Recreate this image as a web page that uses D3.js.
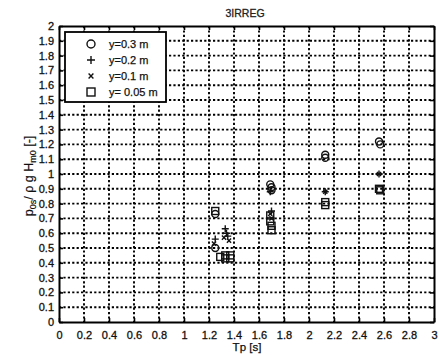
<!DOCTYPE html>
<html>
<head>
<meta charset="utf-8">
<script src="https://cdn.jsdelivr.net/npm/d3@7"></script>
<style>
  body { margin: 0; background: #fff; }
  svg { font-family: "Liberation Sans", Arial, sans-serif; }
</style>
</head>
<body>
<div id="vis"></div>
<script>
// frame
const FRAME_WIDTH = 439;
const FRAME_HEIGHT = 356;
const MARGINS = {left: 59, right: 5, top: 26, bottom: 34};
const VIS_WIDTH = FRAME_WIDTH - MARGINS.left - MARGINS.right;
const VIS_HEIGHT = FRAME_HEIGHT - MARGINS.top - MARGINS.bottom;

// data
const X_TICKS = [0, 0.2, 0.4, 0.6, 0.8, 1, 1.2, 1.4, 1.6, 1.8, 2, 2.2, 2.4, 2.6, 2.8, 3];
const Y_TICKS = [0, 0.1, 0.2, 0.3, 0.4, 0.5, 0.6, 0.7, 0.8, 0.9, 1, 1.1, 1.2, 1.3, 1.4, 1.5, 1.6, 1.7, 1.8, 1.9, 2];

const TP_03 = [1.25, 1.25, 1.69, 1.70, 1.70, 2.13, 2.13, 2.56, 2.57];
const P_03  = [0.73, 0.50, 0.93, 0.91, 0.89, 1.13, 1.11, 1.22, 1.20];

const TP_02 = [1.25, 1.33, 1.34, 1.35, 1.69, 1.70, 2.13, 2.56];
const P_02  = [0.56, 0.63, 0.60, 0.58, 0.88, 0.75, 0.88, 1.00];

const TP_01 = [1.24, 1.32, 1.36, 1.69, 1.70, 2.13, 2.56];
const P_01  = [0.53, 0.57, 0.55, 0.73, 0.70, 0.88, 1.00];

const TP_005 = [1.25, 1.29, 1.33, 1.33, 1.37, 1.37, 1.69, 1.69, 1.70, 1.70, 2.13, 2.13, 2.56, 2.57];
const P_005  = [0.75, 0.44, 0.45, 0.43, 0.45, 0.43, 0.72, 0.68, 0.65, 0.62, 0.81, 0.79, 0.90, 0.89];

const SERIES = [
  {name: "y=0.3 m", shape: "circle", tp: TP_03, p: P_03},
  {name: "y=0.2 m", shape: "plus", tp: TP_02, p: P_02},
  {name: "y=0.1 m", shape: "cross", tp: TP_01, p: P_01},
  {name: "y= 0.05 m", shape: "square", tp: TP_005, p: P_005}
];

const svg = d3.select("#vis")
  .append("svg")
    .attr("width", FRAME_WIDTH)
    .attr("height", FRAME_HEIGHT);

const X_SCALE = d3.scaleLinear().domain([0, 3]).range([0, VIS_WIDTH]);
const Y_SCALE = d3.scaleLinear().domain([0, 2]).range([VIS_HEIGHT, 0]);

const g = svg.append("g")
  .attr("transform", "translate(" + MARGINS.left + "," + MARGINS.top + ")");

// dotted grid
g.selectAll(".vgrid")
  .data(X_TICKS.slice(1, -1))
  .enter()
  .append("line")
    .attr("x1", d => X_SCALE(d)).attr("x2", d => X_SCALE(d))
    .attr("y1", 0).attr("y2", VIS_HEIGHT)
    .attr("stroke", "#000")
    .attr("stroke-width", 1.9)
    .attr("stroke-dasharray", "2.2,2.2");

g.selectAll(".hgrid")
  .data(Y_TICKS.slice(1, -1))
  .enter()
  .append("line")
    .attr("x1", 0).attr("x2", VIS_WIDTH)
    .attr("y1", d => Y_SCALE(d)).attr("y2", d => Y_SCALE(d))
    .attr("stroke", "#000")
    .attr("stroke-width", 1.9)
    .attr("stroke-dasharray", "2.2,2.2");

// axes with inward ticks
const xAxis = g.append("g")
  .attr("transform", "translate(0," + VIS_HEIGHT + ")")
  .call(d3.axisBottom(X_SCALE).tickValues(X_TICKS).tickFormat(d3.format("")).tickSizeInner(-4).tickSizeOuter(0).tickPadding(9));

const yAxis = g.append("g")
  .call(d3.axisLeft(Y_SCALE).tickValues(Y_TICKS).tickFormat(d3.format("")).tickSizeInner(-4).tickSizeOuter(0).tickPadding(5));

g.append("g")
  .call(d3.axisTop(X_SCALE).tickValues(X_TICKS).tickFormat("").tickSizeInner(-4).tickSizeOuter(0));
g.append("g")
  .attr("transform", "translate(" + VIS_WIDTH + ",0)")
  .call(d3.axisRight(Y_SCALE).tickValues(Y_TICKS).tickFormat("").tickSizeInner(-4).tickSizeOuter(0));

g.selectAll(".domain").attr("stroke", "#000").attr("stroke-width", 2);
g.selectAll(".tick line").attr("stroke", "#000").attr("stroke-width", 1.6);
[xAxis, yAxis].forEach(a => a.selectAll("text")
  .attr("font-size", "11px")
  .attr("font-family", "\"Liberation Sans\", Arial, sans-serif")
  .attr("fill", "#111")
  .attr("stroke", "#111")
  .attr("stroke-width", 0.3));

// markers
function drawMarker(sel, shape, size) {
  const h = size / 2;
  if (shape === "circle") {
    sel.append("circle").attr("r", h).attr("fill", "none").attr("stroke", "#111").attr("stroke-width", 1.4);
  } else if (shape === "square") {
    sel.append("rect").attr("x", -h).attr("y", -h).attr("width", size).attr("height", size)
      .attr("fill", "none").attr("stroke", "#111").attr("stroke-width", 1.4);
  } else if (shape === "plus") {
    sel.append("path").attr("d", "M" + (-h) + ",0H" + h + "M0," + (-h) + "V" + h)
      .attr("stroke", "#111").attr("stroke-width", 1.4);
  } else {
    const c = h * 0.6;
    sel.append("path").attr("d", "M" + (-c) + "," + (-c) + "L" + c + "," + c + "M" + (-c) + "," + c + "L" + c + "," + (-c))
      .attr("stroke", "#111").attr("stroke-width", 1.4);
  }
}

SERIES.forEach(s => {
  const pts = s.tp.map((t, i) => ({tp: t, p: s.p[i]}));
  g.selectAll(".pt-" + s.shape)
    .data(pts)
    .enter()
    .append("g")
      .attr("transform", d => "translate(" + X_SCALE(d.tp) + "," + Y_SCALE(d.p) + ")")
      .each(function() { drawMarker(d3.select(this), s.shape, 7); });
});

// legend
const legend = g.append("g").attr("transform", "translate(6,6)");
legend.append("rect")
  .attr("width", 101).attr("height", 70)
  .attr("fill", "#fff").attr("stroke", "#000").attr("stroke-width", 1.8);
SERIES.forEach((s, i) => {
  const row = legend.append("g").attr("transform", "translate(0," + (12 + i * 16) + ")");
  row.append("g").attr("transform", "translate(26,0)").each(function() { drawMarker(d3.select(this), s.shape, 8); });
  row.append("text")
    .attr("x", 44).attr("y", 4)
    .attr("font-size", "11px").attr("fill", "#111")
    .attr("stroke", "#111").attr("stroke-width", 0.25)
    .text(s.name);
});

// title
svg.append("text")
  .attr("x", 245).attr("y", 17)
  .attr("text-anchor", "middle")
  .attr("font-size", "10.5px").attr("fill", "#222")
  .attr("stroke", "#222").attr("stroke-width", 0.3)
  .text("3IRREG");

// x label
svg.append("text")
  .attr("x", 247).attr("y", 351)
  .attr("text-anchor", "middle")
  .attr("font-size", "11.5px").attr("fill", "#111")
  .attr("stroke", "#111").attr("stroke-width", 0.25)
  .text("Tp [s]");

// y label
const yl = svg.append("text")
  .attr("transform", "translate(33," + (MARGINS.top + VIS_HEIGHT / 2 + 2) + ") rotate(-90)")
  .attr("text-anchor", "middle")
  .attr("font-size", "12.5px").attr("fill", "#111")
  .attr("stroke", "#111").attr("stroke-width", 0.2);
yl.append("tspan").text("p");
yl.append("tspan").attr("font-size", "9px").attr("dy", "3").text("0s");
yl.append("tspan").attr("dy", "-3").text("/ ρ g H");
yl.append("tspan").attr("font-size", "9px").attr("dy", "3").text("m0");
yl.append("tspan").attr("dy", "-3").text("  [-]");
</script>
</body>
</html>
